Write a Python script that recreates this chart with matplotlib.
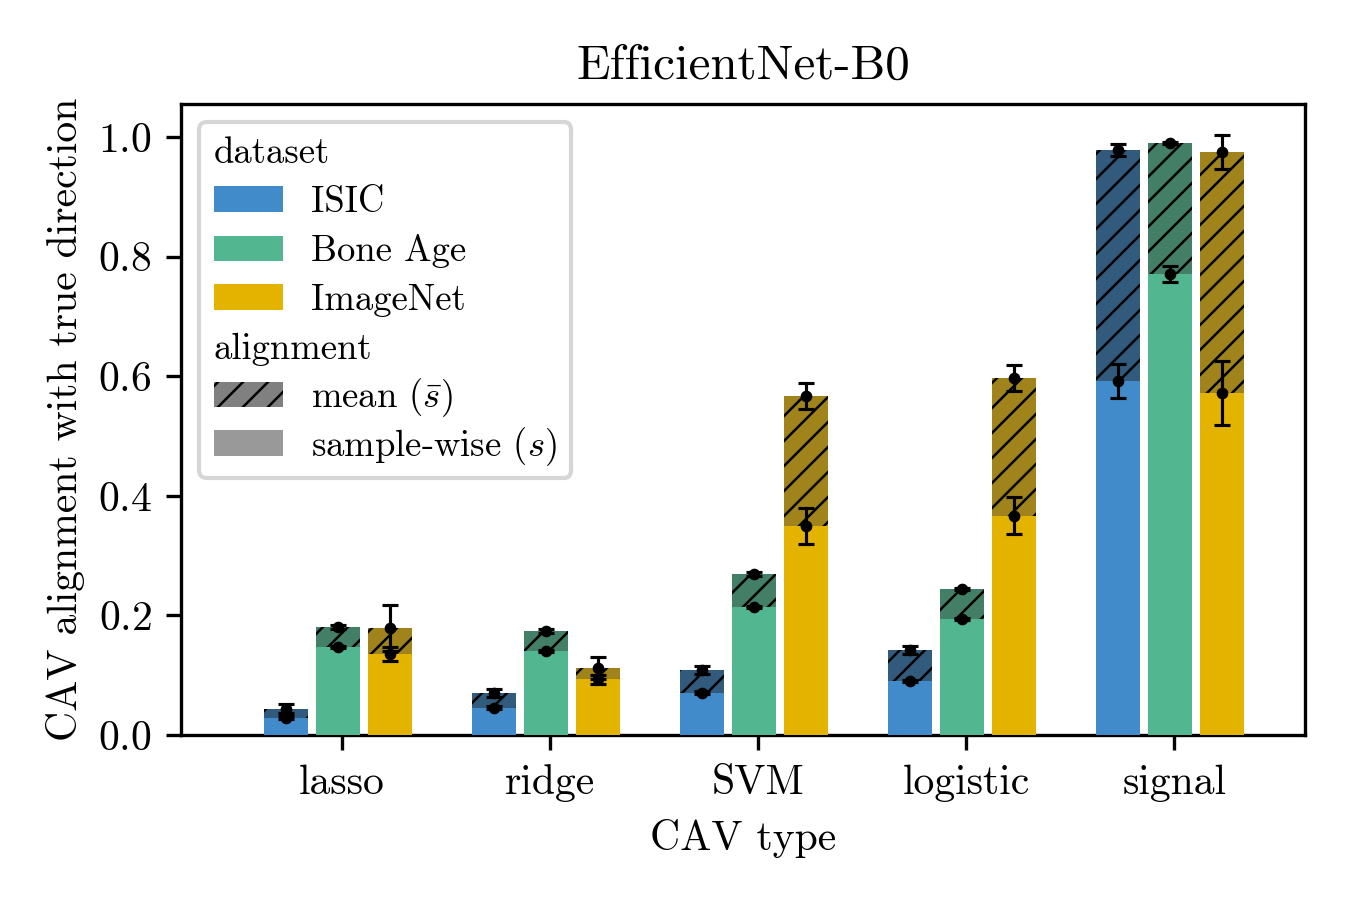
import matplotlib

matplotlib.use("Agg")
import matplotlib.pyplot as plt
import numpy as np
from matplotlib.patches import Patch
from matplotlib.transforms import Bbox

plt.rcParams["font.family"] = "cmr10"
plt.rcParams["mathtext.fontset"] = "cm"
plt.rcParams["axes.formatter.use_mathtext"] = True
plt.rcParams["font.size"] = 10
plt.rcParams["hatch.linewidth"] = 0.6

cav_types = ["lasso", "ridge", "SVM", "logistic", "signal"]
datasets = ["ISIC", "Bone Age", "ImageNet"]

mean_isic = [0.044, 0.070, 0.109, 0.142, 0.978]
mean_bone = [0.181, 0.174, 0.269, 0.244, 0.990]
mean_imnet = [0.179, 0.112, 0.567, 0.597, 0.975]
mean_err_isic = [0.008, 0.007, 0.0065, 0.007, 0.010]
mean_err_bone = [0.003, 0.003, 0.003, 0.002, 0.002]
mean_err_imnet = [0.039, 0.019, 0.0215, 0.022, 0.028]

sample_isic = [0.029, 0.046, 0.071, 0.090, 0.592]
sample_bone = [0.147, 0.140, 0.214, 0.194, 0.771]
sample_imnet = [0.136, 0.093, 0.350, 0.367, 0.572]
sample_err_isic = [0.003, 0.002, 0.002, 0.002, 0.028]
sample_err_bone = [0.002, 0.002, 0.002, 0.002, 0.013]
sample_err_imnet = [0.012, 0.008, 0.030, 0.031, 0.053]

light_colors = ["#428BCA", "#52B690", "#E3B300"]
dark_colors = ["#325A7C", "#437F66", "#A0831A"]

means = [mean_isic, mean_bone, mean_imnet]
mean_errs = [mean_err_isic, mean_err_bone, mean_err_imnet]
samples = [sample_isic, sample_bone, sample_imnet]
sample_errs = [sample_err_isic, sample_err_bone, sample_err_imnet]

fig = plt.figure(figsize=(4.5, 3), dpi=300)
ax = fig.add_axes([0.134, 0.1833, 0.8327, 0.7011])

x = np.arange(len(cav_types))
offsets = [-0.25, 0.0, 0.25]
bar_w = 0.21
err_kw = dict(fmt="o", color="black", markersize=1.8, elinewidth=0.75,
              capsize=2, capthick=0.75, zorder=5)

for i in range(len(datasets)):
    left = x + offsets[i] - 0.125
    ax.bar(left, means[i], width=bar_w, align="edge", color=dark_colors[i],
           hatch="////", edgecolor="black", linewidth=0, zorder=2)
    ax.bar(left, samples[i], width=bar_w, align="edge", color=light_colors[i],
           linewidth=0, zorder=3)
    centers = left + bar_w / 2
    ax.errorbar(centers, means[i], yerr=mean_errs[i], **err_kw)
    ax.errorbar(centers, samples[i], yerr=sample_errs[i], **err_kw)

ax.set_xticks(x)
ax.set_xticklabels(cav_types)
ax.set_xlim(-0.775, 4.628)
ax.set_ylim(0, 1.055)
ax.set_yticks([0.0, 0.2, 0.4, 0.6, 0.8, 1.0])
ax.set_xlabel("CAV type")
ax.set_ylabel("CAV alignment with true direction", labelpad=3)
ax.set_title("EfficientNet-B0", fontsize=11.8)

handles = [Patch(visible=False)]
labels = ["dataset"]
for name, c in zip(datasets, light_colors):
    handles.append(Patch(facecolor=c, linewidth=0))
    labels.append(name)
handles.append(Patch(visible=False))
labels.append("alignment")
handles.append(Patch(facecolor="#808080", hatch="////", edgecolor="black", linewidth=0))
labels.append(r"mean ($\bar{s}$)")
handles.append(Patch(facecolor="#999999", linewidth=0))
labels.append(r"sample-wise ($s$)")

leg = ax.legend(handles, labels, loc="upper left", fontsize=8.8,
                handlelength=1.88, handletextpad=0.76, labelspacing=0.42)
rows = leg._legend_handle_box.get_children()[0].get_children()
# header rows: drop the empty handle so the text starts at the left
for idx in (0, 4):
    rows[idx].get_children()[0].width = 0
    rows[idx].sep = 0

# give the mathtext rows the same height as the plain rows
ref_text = rows[1].get_children()[1]
for idx in (5, 6):
    ta = rows[idx].get_children()[1]

    def same_height(renderer, orig=ta.get_bbox, ref=ref_text):
        b = orig(renderer)
        r = ref.get_bbox(renderer)
        return Bbox.from_bounds(b.x0, r.y0, b.width, r.height)

    ta.get_bbox = same_height

fig.savefig("out.png", dpi=300)
